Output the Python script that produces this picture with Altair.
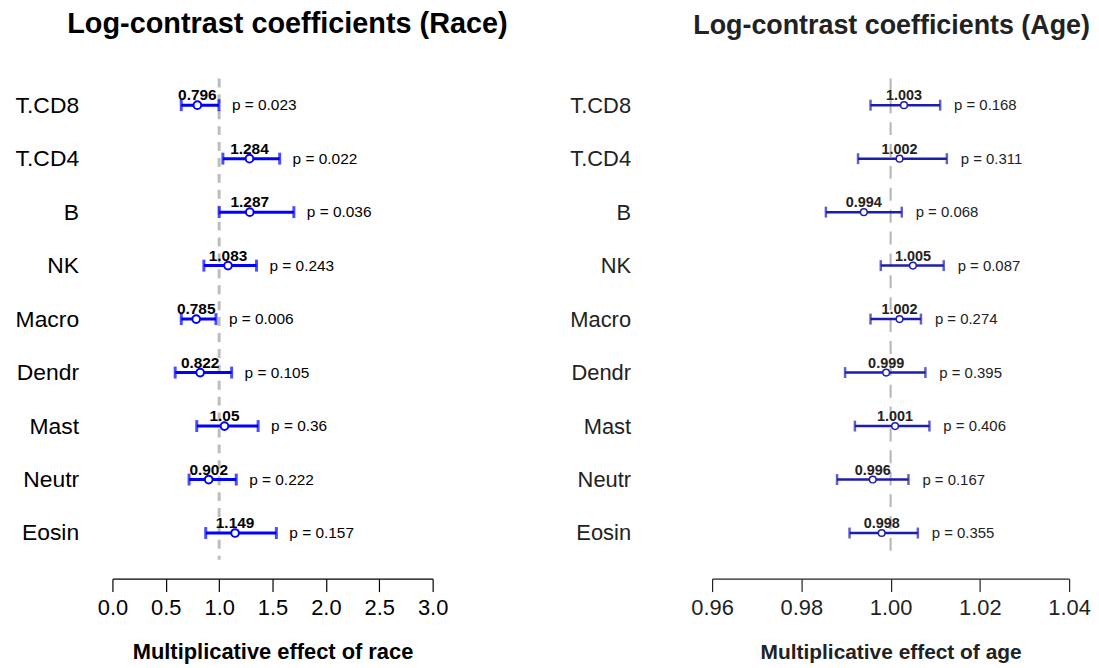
import altair as alt
import pandas as pd

cells = ["T.CD8", "T.CD4", "B", "NK", "Macro", "Dendr", "Mast", "Neutr", "Eosin"]

race_est = [0.796, 1.284, 1.287, 1.083, 0.785, 0.822, 1.05, 0.902, 1.149]
race_lo = [0.645, 1.035, 1.000, 0.857, 0.645, 0.588, 0.790, 0.718, 0.874]
race_hi = [0.998, 1.567, 1.700, 1.350, 0.970, 1.117, 1.365, 1.160, 1.536]
race_p = ["0.023", "0.022", "0.036", "0.243", "0.006", "0.105", "0.36", "0.222", "0.157"]

age_est = [1.003, 1.002, 0.994, 1.005, 1.002, 0.999, 1.001, 0.996, 0.998]
age_lo = [0.9955, 0.9927, 0.9855, 0.9978, 0.9955, 0.9898, 0.9920, 0.9880, 0.9908]
age_hi = [1.0111, 1.0126, 1.0025, 1.0119, 1.0068, 1.0078, 1.0087, 1.0040, 1.0061]
age_p = ["0.168", "0.311", "0.068", "0.087", "0.274", "0.395", "0.406", "0.167", "0.355"]

race_ticks = [0.0, 0.5, 1.0, 1.5, 2.0, 2.5, 3.0]
age_ticks = [0.96, 0.98, 1.00, 1.02, 1.04]

FONT = "Liberation Sans"


def make_df(est, lo, hi, p):
    return pd.DataFrame({
        "cell": cells,
        "est": est,
        "lo": lo,
        "hi": hi,
        "ptxt": ["p = " + v for v in p],
    })


def panel(df, domain, ticks, fmt, title, xtitle, color, textcolor, sizes):
    W, H = sizes["w"], 484
    yax = alt.Axis(title=None, domain=False, ticks=False, tickSize=0,
                   labelFontSize=sizes["ylab"], labelPadding=sizes["ypad"],
                   labelColor=textcolor, labelFont=FONT,
                   minExtent=sizes["yext"], maxExtent=sizes["yext"])
    xax = alt.Axis(values=ticks, format=fmt, offset=19, tickSize=13,
                   domainColor=textcolor, tickColor=textcolor, domainWidth=1.2,
                   tickWidth=1.2, labelFontSize=sizes["xlab"], labelColor=textcolor,
                   labelFont=FONT, labelPadding=6, labelFlush=False, grid=False,
                   title=xtitle, titleFontSize=sizes["xtitle"], titleFont=FONT,
                   titleFontWeight="bold", titleColor=textcolor, titlePadding=23)
    y = alt.Y("cell:N", sort=cells, axis=yax, scale=alt.Scale(type="point", padding=0.5))
    xs = alt.Scale(domain=domain, nice=False, zero=False)
    base = alt.Chart(df)

    ref = base.mark_rule(color=sizes["refcolor"], strokeWidth=sizes["refw"],
                         strokeDash=sizes["dash"]).encode(
        x=alt.X("datum_one:Q", scale=xs, axis=xax)
    ).transform_calculate(datum_one="1").transform_filter(alt.datum.cell == "T.CD8")

    bar = base.mark_rule(color=color, strokeWidth=sizes["bw"]).encode(
        x=alt.X("lo:Q", scale=xs, axis=xax), x2="hi:Q", y=y)
    cap_lo = base.mark_tick(color=color, thickness=sizes["bw"], size=sizes["cap"]).encode(
        x=alt.X("lo:Q", scale=xs), y=y)
    cap_hi = base.mark_tick(color=color, thickness=sizes["bw"], size=sizes["cap"]).encode(
        x=alt.X("hi:Q", scale=xs), y=y)
    pt = base.mark_point(shape="circle", filled=False, fill="white", fillOpacity=1,
                         stroke=color, strokeWidth=sizes["pw"], size=sizes["ps"],
                         opacity=1).encode(x=alt.X("est:Q", scale=xs), y=y)
    vlab = base.mark_text(font=FONT, fontWeight="bold", fontSize=sizes["vfs"],
                          color=textcolor, baseline="alphabetic", dy=-5).encode(
        x=alt.X("est:Q", scale=xs), y=y, text="est:N")
    plab = base.mark_text(font=FONT, fontSize=sizes["pfs"], color=textcolor,
                          align="left", baseline="middle", dx=sizes["pdx"], dy=0).encode(
        x=alt.X("hi:Q", scale=xs), y=y, text="ptxt:N")

    return alt.layer(ref, bar, cap_lo, cap_hi, pt, vlab, plab).properties(
        width=W, height=H,
        title=alt.TitleParams(title, fontSize=sizes["tfs"], font=FONT, fontWeight="bold",
                              color=textcolor, anchor="middle", frame="group",
                              dx=sizes["tdx"], offset=38),
    )


left = panel(make_df(race_est, race_lo, race_hi, race_p), [0, 3], race_ticks, ".1f",
             "Log-contrast coefficients (Race)", "Multiplicative effect of race",
             "#0000ff", "#000000",
             dict(w=322, ylab=23, ypad=34, yext=104, xlab=22, xtitle=22, refcolor="#bdbdbd",
                  refw=3, dash=[9, 7], bw=3, cap=12, pw=2, ps=60, vfs=15.5, pfs=15.5,
                  pdx=13, tfs=29, tdx=15))

right = panel(make_df(age_est, age_lo, age_hi, age_p), [0.96, 1.04], age_ticks, ".2f",
              "Log-contrast coefficients (Age)", "Multiplicative effect of age",
              "#1c1cb0", "#222222",
              dict(w=359, ylab=22, ypad=82, yext=281, xlab=22, xtitle=21, refcolor="#b4b4b4",
                   refw=2, dash=[13, 9], bw=2.5, cap=11, pw=1.5, ps=45, vfs=14.5, pfs=15,
                   pdx=14, tfs=27, tdx=1))

chart = alt.hconcat(left, right, spacing=281, bounds="flush").properties(
    padding=0
).configure(font=FONT, view=alt.ViewConfig(stroke="transparent"))

chart.save("out.html", embed_options={"renderer": "svg", "actions": False})
